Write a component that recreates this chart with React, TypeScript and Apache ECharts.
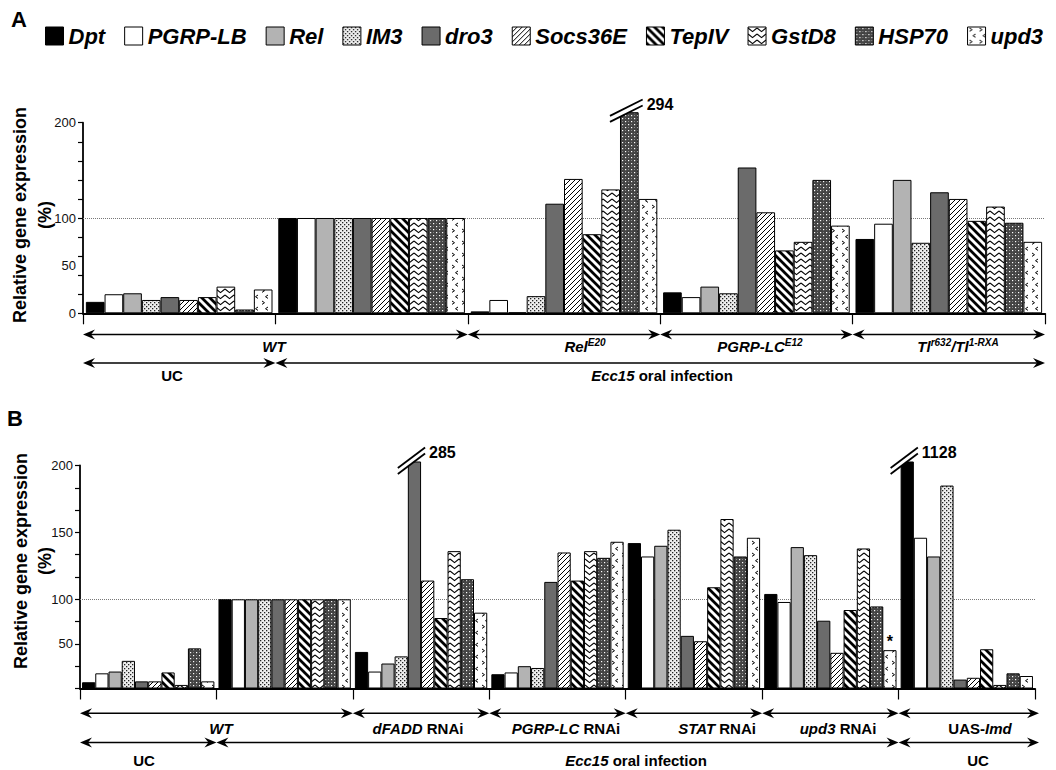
import React, { useEffect, useRef } from 'react';
import * as echarts from 'echarts';

const FONT = '"Liberation Sans", Arial, Helvetica, sans-serif';

// ---------- data ----------
const genes = ['Dpt', 'PGRP-LB', 'Rel', 'IM3', 'dro3', 'Socs36E', 'TepIV', 'GstD8', 'HSP70', 'upd3'];

// Panel A groups: UC WT, Ecc15 WT, RelE20, PGRP-LCE12, Tl
const groupsA = ['UC WT', 'Ecc15 WT', 'RelE20', 'PGRP-LCE12', 'Tl'];
const dptA = [12, 100, 2, 22, 78];
const pgrplbA = [20, 100, 14, 17, 94];
const relA = [21, 100, 1, 28, 140];
const im3A = [14, 100, 18, 21, 74];
const dro3A = [17, 100, 115, 153, 127];
const socsA = [14, 100, 141, 106, 120];
const tepA = [17, 100, 83, 66, 97];
const gstA = [28, 100, 130, 75, 112];
const hspA = [4, 100, 294, 140, 95];
const upd3A = [25, 100, 120, 92, 75];

// Panel B groups: UC WT, Ecc15 WT, dFADD RNAi, PGRP-LC RNAi, STAT RNAi, upd3 RNAi, UAS-imd (UC)
const groupsB = ['UC WT', 'Ecc15 WT', 'dFADD RNAi', 'PGRP-LC RNAi', 'STAT RNAi', 'upd3 RNAi', 'UAS-imd'];
const dptB = [7, 100, 41, 16, 142, 104, 1128];
const pgrplbB = [17, 100, 19, 18, 132, 97, 146];
const relB = [19, 100, 28, 25, 140, 139, 132];
const im3B = [31, 100, 36, 23, 152, 133, 185];
const dro3B = [8, 100, 285, 113, 59, 76, 10];
const socsB = [8, 100, 114, 135, 53, 40, 12];
const tepB = [18, 100, 79, 114, 109, 88, 44];
const gstB = [4, 100, 136, 136, 160, 138, 4];
const hspB = [45, 100, 115, 131, 132, 92, 17];
const upd3B = [8, 100, 85, 143, 146, 43, 14];

const valsA = [dptA, pgrplbA, relA, im3A, dro3A, socsA, tepA, gstA, hspA, upd3A];
const valsB = [dptB, pgrplbB, relB, im3B, dro3B, socsB, tepB, gstB, hspB, upd3B];

const ticksA = [0, 20, 40, 60, 80, 100, 120, 140, 160, 180, 200];
const labelsA = [0, 50, 100, 200];
const ticksB = [0, 25, 50, 75, 100, 116.67, 133.33, 150, 166.67, 183.33, 200];
const labelsB = [50, 100, 150, 200];
const asteriskB = { gene: 9, group: 5 };

// ---------- helpers ----------
const AXIS_MAX = 200;
const capA = 211;
const capB = 203;
const tB = (v: number) => (v <= 100 ? v : 100 + 1.5 * (v - 100));
const invB = (t: number) => (t <= 100 ? t : 100 + (t - 100) / 1.5);

const GA = { left: 83, top: 122.7, width: 962, height: 190.6 };
const GB = { left: 80, top: 465.5, width: 955, height: 223 };

function mkPattern(w: number, h: number, draw: (ctx: CanvasRenderingContext2D) => void) {
  const c = document.createElement('canvas');
  c.width = w;
  c.height = h;
  const ctx = c.getContext('2d') as CanvasRenderingContext2D;
  draw(ctx);
  return { image: c, repeat: 'repeat', imageWidth: w, imageHeight: h } as any;
}

function makeFills(): any[] {
  const white = (ctx: CanvasRenderingContext2D, w: number, h: number, col = '#fff') => {
    ctx.fillStyle = col;
    ctx.fillRect(0, 0, w, h);
  };
  const im3 = mkPattern(4, 4, (ctx) => {
    white(ctx, 4, 4, '#eeeeee');
    ctx.fillStyle = '#222';
    ctx.fillRect(0, 0, 1.3, 1.3);
    ctx.fillRect(2, 2, 1.3, 1.3);
  });
  const socs = mkPattern(5, 5, (ctx) => {
    white(ctx, 5, 5);
    ctx.strokeStyle = '#000';
    ctx.lineWidth = 1;
    ctx.beginPath();
    ctx.moveTo(0, 5); ctx.lineTo(5, 0);
    ctx.moveTo(-1, 1); ctx.lineTo(1, -1);
    ctx.moveTo(4, 6); ctx.lineTo(6, 4);
    ctx.stroke();
  });
  const tep = mkPattern(8, 8, (ctx) => {
    white(ctx, 8, 8);
    ctx.strokeStyle = '#000';
    ctx.lineWidth = 2.8;
    ctx.beginPath();
    ctx.moveTo(-8, 0); ctx.lineTo(8, 16);
    ctx.moveTo(0, 0); ctx.lineTo(8, 8);
    ctx.moveTo(0, -8); ctx.lineTo(16, 8);
    ctx.stroke();
  });
  const gst = mkPattern(9, 6, (ctx) => {
    white(ctx, 9, 6);
    ctx.strokeStyle = '#000';
    ctx.lineWidth = 1.2;
    ctx.beginPath();
    ctx.moveTo(0, 1); ctx.lineTo(4.5, 4.6); ctx.lineTo(9, 1);
    ctx.stroke();
  });
  const hsp = mkPattern(6, 6, (ctx) => {
    white(ctx, 6, 6, '#444');
    ctx.fillStyle = '#fff';
    ctx.fillRect(1, 1, 1.2, 1.2);
    ctx.fillRect(4, 4, 1.2, 1.2);
    ctx.fillStyle = '#888';
    ctx.fillRect(4, 1, 1, 1);
    ctx.fillRect(1, 4, 1, 1);
  });
  const upd = mkPattern(10, 12, (ctx) => {
    white(ctx, 10, 12);
    ctx.strokeStyle = '#000';
    ctx.lineWidth = 1;
    ctx.beginPath();
    ctx.moveTo(2, 1); ctx.lineTo(4.5, 2.7); ctx.lineTo(2, 4.4);
    ctx.moveTo(8, 7); ctx.lineTo(5.5, 8.7); ctx.lineTo(8, 10.4);
    ctx.stroke();
  });
  return ['#000000', '#ffffff', '#b3b3b3', im3, '#6b6b6b', socs, tep, gst, hsp, upd];
}

function arrow(x1: number, x2: number, y: number): any[] {
  return [
    { type: 'line', shape: { x1: x1 + 4, y1: y, x2: x2 - 4, y2: y }, style: { stroke: '#000', lineWidth: 1.6 } },
    { type: 'polygon', shape: { points: [[x1, y], [x1 + 12, y - 5], [x1 + 8, y], [x1 + 12, y + 5]] }, style: { fill: '#000' } },
    { type: 'polygon', shape: { points: [[x2, y], [x2 - 12, y - 5], [x2 - 8, y], [x2 - 12, y + 5]] }, style: { fill: '#000' } },
  ];
}

const richBase = {
  i: { fontFamily: FONT, fontSize: 15, fontWeight: 'bold', fontStyle: 'italic', lineHeight: 18, fill: '#000', color: '#000' },
  n: { fontFamily: FONT, fontSize: 15, fontWeight: 'bold', lineHeight: 18, fill: '#000', color: '#000' },
  s: { fontFamily: FONT, fontSize: 10, fontWeight: 'bold', fontStyle: 'italic', lineHeight: 11, verticalAlign: 'top', fill: '#000', color: '#000' },
};

function label(x: number, y: number, text: string): any {
  return {
    type: 'text',
    x,
    y,
    style: {
      text,
      rich: richBase,
      align: 'center',
      verticalAlign: 'middle',
      textAlign: 'center',
      textVerticalAlign: 'middle',
      fill: '#000',
    },
  };
}

function plainText(x: number, y: number, text: string, size: number, rot = 0, weight = 'bold'): any {
  return {
    type: 'text',
    x,
    y,
    rotation: rot,
    style: {
      text,
      fontFamily: FONT,
      fontSize: size,
      fontWeight: weight,
      fill: '#000',
      align: 'center',
      verticalAlign: 'middle',
      textAlign: 'center',
      textVerticalAlign: 'middle',
    },
  };
}

function baseGraphics(): any[] {
  const bA = (i: number) => GA.left + (i * GA.width) / groupsA.length;
  const bB = (i: number) => GB.left + (i * GB.width) / groupsB.length;
  const yA1 = 334.5, yA2 = 363;
  const yB1 = 713.3, yB2 = 742.5;
  const g: any[] = [];
  g.push(plainText(19, 19, 'A', 22));
  g.push(plainText(15, 418, 'B', 22));
  g.push(plainText(20, 215, 'Relative gene expression', 18, Math.PI / 2));
  g.push(plainText(45, 215, '(%)', 18, Math.PI / 2));
  g.push(plainText(21, 561, 'Relative gene expression', 18, Math.PI / 2));
  g.push(plainText(45, 561, '(%)', 18, Math.PI / 2));

  // Panel A brackets
  g.push(...arrow(bA(0), bA(2), yA1));
  g.push(...arrow(bA(2), bA(3), yA1));
  g.push(...arrow(bA(3), bA(4), yA1));
  g.push(...arrow(bA(4), bA(5), yA1));
  g.push(...arrow(bA(0), bA(1), yA2));
  g.push(...arrow(bA(1), bA(5), yA2));
  g.push(label(274, 346, '{i|WT}'));
  g.push(label(585, 346, '{i|Rel}{s|E20}'));
  g.push(label(760, 346, '{i|PGRP-LC}{s|E12}'));
  g.push(label(958, 346, '{i|Tl}{s|r632}{i|/Tl}{s|1-RXA}'));
  g.push(label(172, 375, '{n|UC}'));
  g.push(label(662, 375, '{i|Ecc15}{n| oral infection}'));

  // Panel B brackets
  g.push(...arrow(bB(0), bB(2), yB1));
  g.push(...arrow(bB(2), bB(3), yB1));
  g.push(...arrow(bB(3), bB(4), yB1));
  g.push(...arrow(bB(4), bB(5), yB1));
  g.push(...arrow(bB(5), bB(6), yB1));
  g.push(...arrow(bB(6), bB(7) + 4, yB1));
  g.push(...arrow(bB(0), bB(1), yB2));
  g.push(...arrow(bB(1), bB(6), yB2));
  g.push(...arrow(bB(6), bB(7) + 4, yB2));
  g.push(label(221, 728, '{i|WT}'));
  g.push(label(418, 728, '{i|dFADD}{n| RNAi}'));
  g.push(label(566, 728, '{i|PGRP-LC}{n| RNAi}'));
  g.push(label(717, 728, '{i|STAT}{n| RNAi}'));
  g.push(label(838, 728, '{i|upd3}{n| RNAi}'));
  g.push(label(980, 728, '{n|UAS-}{i|Imd}'));
  g.push(label(144, 760, '{n|UC}'));
  g.push(label(636, 760, '{i|Ecc15}{n| oral infection}'));
  g.push(label(978, 760, '{n|UC}'));
  return g;
}

function xAxisCfg(gridIndex: number, data: string[]): any {
  return {
    type: 'category',
    gridIndex,
    data,
    axisLabel: { show: false },
    axisTick: { show: true, length: 11, interval: 0, lineStyle: { color: '#000', width: 1.2 } },
    axisLine: { show: true, lineStyle: { color: '#000', width: 1.8 } },
    splitLine: { show: false },
  };
}

export default function App() {
  const ref = useRef<HTMLDivElement>(null);
  useEffect(() => {
    if (!ref.current) return;
    const chart = echarts.init(ref.current, null, { renderer: 'svg' });
    const fills = makeFills();
    const series: any[] = [];
    genes.forEach((name, gi) => {
      series.push({
        type: 'bar',
        name,
        xAxisIndex: 0,
        yAxisIndex: 0,
        barGap: '0%',
        barCategoryGap: '3%',
        clip: false,
        itemStyle: { color: fills[gi], borderColor: '#000', borderWidth: 1 },
        data: valsA[gi].map((v) => Math.min(v, capA)),
      });
    });
    genes.forEach((name, gi) => {
      series.push({
        type: 'bar',
        name,
        xAxisIndex: 1,
        yAxisIndex: 1,
        barGap: '0%',
        barCategoryGap: '3%',
        clip: false,
        itemStyle: { color: fills[gi], borderColor: '#000', borderWidth: 1 },
        data: valsB[gi].map((v, di) => {
          const value = tB(Math.min(v, capB));
          if (gi === asteriskB.gene && di === asteriskB.group) {
            return {
              value,
              label: { show: true, position: 'top', formatter: '*', fontSize: 16, fontWeight: 'bold', color: '#000', distance: 1 },
            };
          }
          return value;
        }),
      });
    });
    const refLine = (idx: number) => ({
      type: 'line',
      name: 'ref' + idx,
      xAxisIndex: idx,
      yAxisIndex: idx,
      data: [],
      z: 1,
      markLine: {
        z: 1,
        silent: true,
        symbol: ['none', 'none'],
        label: { show: false },
        lineStyle: { type: 'dotted', color: '#777', width: 1 },
        data: [{ yAxis: 100 }],
      },
    });
    series.push(refLine(0), refLine(1));

    const option: any = {
      animation: false,
      backgroundColor: '#fff',
      textStyle: { fontFamily: FONT },
      legend: {
        data: genes,
        left: 45,
        top: 25,
        width: 1011,
        padding: 0,
        itemWidth: 18,
        itemHeight: 18,
        itemGap: 19,
        icon: 'rect',
        selectedMode: false,
        itemStyle: { borderColor: '#000', borderWidth: 1 },
        textStyle: { fontSize: 22, fontWeight: 'bold', fontStyle: 'italic', fontFamily: FONT, color: '#000' },
      },
      grid: [
        { left: GA.left, top: GA.top, width: GA.width, height: GA.height, containLabel: false },
        { left: GB.left, top: GB.top, width: GB.width, height: GB.height, containLabel: false },
      ],
      xAxis: [xAxisCfg(0, groupsA), xAxisCfg(1, groupsB)],
      yAxis: [
        {
          type: 'value',
          gridIndex: 0,
          min: 0,
          max: AXIS_MAX,
          axisLine: { show: true, lineStyle: { color: '#000', width: 1.8 } },
          axisTick: { show: true, length: 5, customValues: ticksA, lineStyle: { color: '#000', width: 1.2 } },
          axisLabel: { customValues: labelsA, fontSize: 13, color: '#111', margin: 7, fontFamily: FONT },
          splitLine: { show: false },
        },
        {
          type: 'value',
          gridIndex: 1,
          min: 0,
          max: tB(AXIS_MAX),
          axisLine: { show: true, lineStyle: { color: '#000', width: 1.8 } },
          axisTick: { show: true, length: 5, customValues: ticksB.map(tB), lineStyle: { color: '#000', width: 1.2 } },
          axisLabel: {
            customValues: labelsB.map(tB),
            fontSize: 13,
            color: '#111',
            margin: 7,
            fontFamily: FONT,
            formatter: (t: number) => String(Math.round(invB(t))),
          },
          splitLine: { show: false },
        },
      ],
      series,
    };
    chart.setOption(option);

    // broken-bar marks, positioned from the bars' own layout
    const breaks: any[] = [];
    const addBreak = (seriesIndex: number, dataIndex: number, real: number, slope: number) => {
      let lay: any = null;
      try {
        lay = (chart as any).getModel().getSeriesByIndex(seriesIndex).getData().getItemLayout(dataIndex);
      } catch (e) {
        lay = null;
      }
      if (!lay) return;
      const x = Math.min(lay.x, lay.x + lay.width);
      const w = Math.abs(lay.width);
      const top = Math.min(lay.y, lay.y + lay.height);
      const xl = x - 10;
      const xr = x + w + 4;
      const xm = x + w / 2;
      const ylLow = top + slope * (xm - xl);
      const yrLow = top - slope * (xr - xm);
      const gap = 6;
      breaks.push({
        type: 'polygon',
        shape: { points: [[xl, ylLow], [xr, yrLow], [xr, yrLow - gap], [xl, ylLow - gap]] },
        style: { fill: '#fff' },
        z: 10,
      });
      breaks.push({ type: 'line', shape: { x1: xl, y1: ylLow, x2: xr, y2: yrLow }, style: { stroke: '#000', lineWidth: 1.8 }, z: 11 });
      breaks.push({ type: 'line', shape: { x1: xl, y1: ylLow - gap, x2: xr, y2: yrLow - gap }, style: { stroke: '#000', lineWidth: 1.8 }, z: 11 });
      breaks.push({
        type: 'text',
        x: xr + 4,
        y: yrLow - 1,
        z: 11,
        style: {
          text: String(real),
          fontFamily: FONT,
          fontSize: 16,
          fontWeight: 'bold',
          fill: '#000',
          align: 'left',
          verticalAlign: 'middle',
          textAlign: 'left',
          textVerticalAlign: 'middle',
        },
      });
    };
    valsA.forEach((arr, gi) => arr.forEach((v, di) => { if (v > AXIS_MAX) addBreak(gi, di, v, 0.5); }));
    valsB.forEach((arr, gi) => arr.forEach((v, di) => { if (v > AXIS_MAX) addBreak(10 + gi, di, v, 0.75); }));

    chart.setOption({ graphic: { elements: [...baseGraphics(), ...breaks] } });
    return () => chart.dispose();
  }, []);
  return <div ref={ref} style={{ position: 'absolute', left: 0, top: 0, width: 1056, height: 770 }} />;
}
